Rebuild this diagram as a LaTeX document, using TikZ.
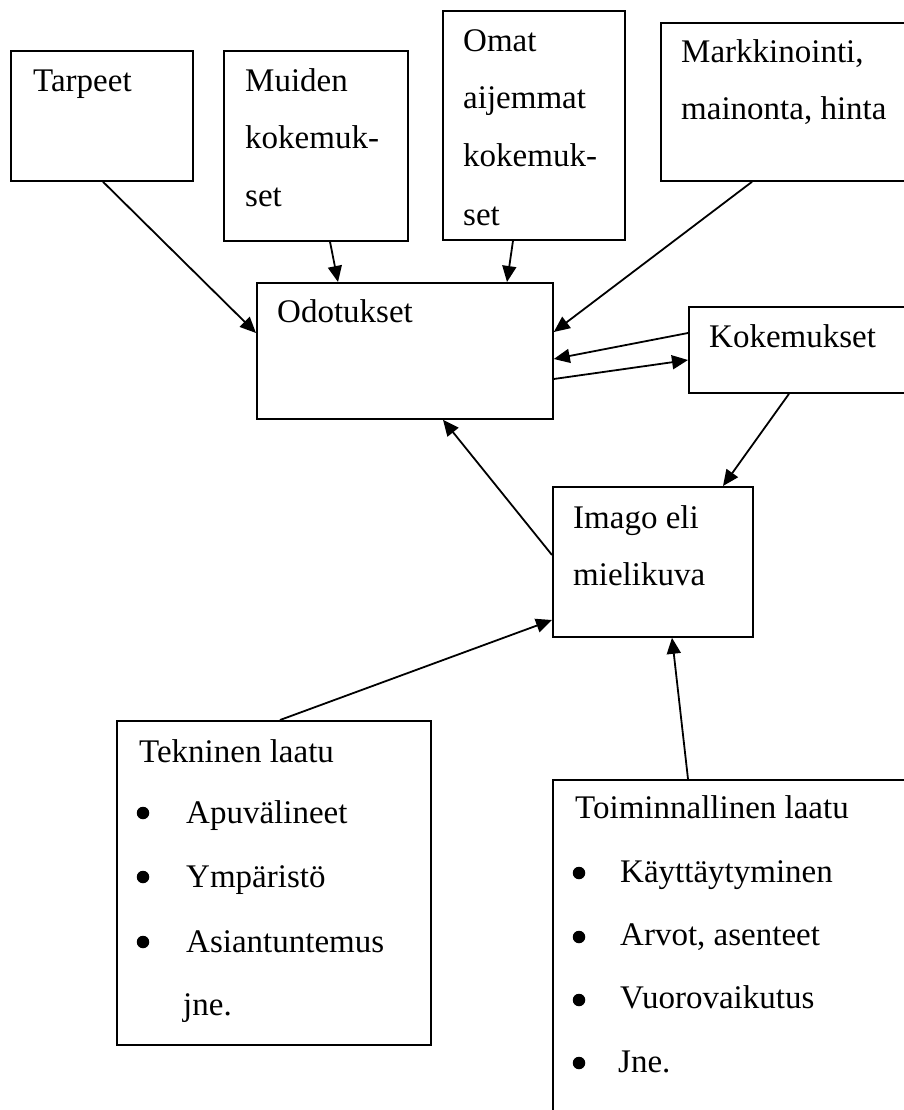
\documentclass[tikz,border=0pt]{standalone}
\usepackage{fontspec}
\setmainfont{Liberation Serif}
\usetikzlibrary{arrows.meta}
\begin{document}
\begin{tikzpicture}[x=1pt,y=1pt,
  box/.style={draw, line width=1.8pt, rectangle, anchor=north west, inner sep=0pt},
  txt/.style={anchor=base west, inner sep=0pt, font=\fontsize{33}{40}\selectfont},
  dot/.style={circle, fill, inner sep=0pt, minimum size=12.5pt},
  link/.style={line width=1.8pt, -{Triangle[length=16pt,width=14pt]}}]
\clip (0,0) rectangle (904,-1110);

% boxes
\node[box, minimum width=182pt, minimum height=130pt] (tarpeet) at (10,-50) {};
\node[box, minimum width=184pt, minimum height=190pt] (muiden) at (223,-50) {};
\node[box, minimum width=182pt, minimum height=229pt] (omat) at (442,-10) {};
\node[box, minimum width=270pt, minimum height=158pt] (markk) at (660,-22) {};
\node[box, minimum width=296pt, minimum height=136pt] (odot) at (256,-282) {};
\node[box, minimum width=250pt, minimum height=86pt] (koke) at (688,-306) {};
\node[box, minimum width=200pt, minimum height=150pt] (imago) at (552,-486) {};
\node[box, minimum width=314pt, minimum height=324pt] (tek) at (116,-720) {};
\node[box, minimum width=400pt, minimum height=400pt] (toim) at (552,-779) {};

% texts
\node[txt] (t1) at (33,-92) {Tarpeet};
\node[txt] (m1) at (245,-92) {Muiden};
\node[txt] (m2) at (245,-149) {kokemuk-};
\node[txt] (m3) at (245,-207) {set};
\node[txt] (o1) at (463,-52) {Omat};
\node[txt] (o2) at (463,-109) {aijemmat};
\node[txt] (o3) at (463,-167) {kokemuk-};
\node[txt] (o4) at (463,-225) {set};
\node[txt] (k1) at (681,-63) {Markkinointi,};
\node[txt] (k2) at (681,-120) {mainonta, hinta};
\node[txt] (d1) at (277,-322) {Odotukset};
\node[txt] (e1) at (709,-347) {Kokemukset};
\node[txt] (i1) at (573,-528) {Imago eli};
\node[txt] (i2) at (573,-585) {mielikuva};

\node[txt] (tk0) at (139,-762) {Tekninen laatu};
\node[dot] (tb1) at (143,-813) {};
\node[dot] (tb2) at (143,-877) {};
\node[dot] (tb3) at (143,-942) {};
\node[txt] (tk1) at (186,-823) {Apuvälineet};
\node[txt] (tk2) at (186,-887) {Ympäristö};
\node[txt] (tk3) at (186,-952) {Asiantuntemus};
\node[txt] (tk4) at (183,-1015) {jne.};

\node[txt] (tm0) at (575,-818) {Toiminnallinen laatu};
\node[dot] (mb1) at (579,-873) {};
\node[dot] (mb2) at (579,-937) {};
\node[dot] (mb3) at (579,-1000) {};
\node[dot] (mb4) at (579,-1063) {};
\node[txt] (tm1) at (620,-882) {Käyttäytyminen};
\node[txt] (tm2) at (620,-945) {Arvot, asenteet};
\node[txt] (tm3) at (620,-1008) {Vuorovaikutus};
\node[txt] (tm4) at (618,-1072) {Jne.};

% connectors
\draw[link] ([xshift=93pt]tarpeet.south west) -- ([yshift=-51pt]odot.north west);
\draw[link] ([xshift=107pt]muiden.south west) -- ([xshift=82pt]odot.north west);
\draw[link] ([xshift=71pt]omat.south west) -- ([xshift=251pt]odot.north west);
\draw[link] ([xshift=92pt]markk.south west) -- ([yshift=-50pt]odot.north east);
\draw[link] ([yshift=-27pt]koke.north west) -- ([yshift=-77pt]odot.north east);
\draw[link] ([yshift=-97pt]odot.north east) -- ([yshift=-54pt]koke.north west);
\draw[link] ([xshift=101pt]koke.south west) -- ([xshift=171pt]imago.north west);
\draw[link] ([yshift=-69pt]imago.north west) -- ([xshift=187pt]odot.south west);
\draw[link] ([xshift=164pt]tek.north west) -- ([yshift=-134pt]imago.north west);
\draw[link] ([xshift=136pt]toim.north west) -- ([xshift=120pt]imago.south west);
\end{tikzpicture}
\end{document}
